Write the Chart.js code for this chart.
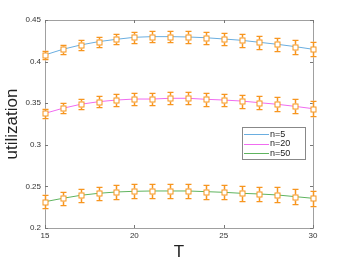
<!DOCTYPE html>
<html>
<head>
<meta charset="utf-8">
<script src="https://cdn.jsdelivr.net/npm/chart.js@4.4.1/dist/chart.umd.min.js"></script>
<style>
  html, body { margin: 0; padding: 0; background: #fff; }
  #wrap { width: 346px; height: 263px; }
</style>
</head>
<body>
<div id="wrap"><canvas id="chart" width="346" height="263"></canvas></div>
<script>
const T = [15, 16, 17, 18, 19, 20, 21, 22, 23, 24, 25, 26, 27, 28, 29, 30];
const seriesNames = ["n=5", "n=20", "n=50"];
const util5 = [0.408, 0.4148, 0.420, 0.424, 0.4268, 0.4292, 0.430, 0.430, 0.4296, 0.4287, 0.4272, 0.4256, 0.4232, 0.4208, 0.418, 0.4148];
const util20 = [0.3378, 0.3439, 0.3487, 0.3518, 0.3538, 0.355, 0.355, 0.3559, 0.3559, 0.3547, 0.3538, 0.3526, 0.3506, 0.3487, 0.3462, 0.3434];
const util50 = [0.2316, 0.2357, 0.2393, 0.2417, 0.2433, 0.2441, 0.2445, 0.2445, 0.2445, 0.2437, 0.2429, 0.2417, 0.2409, 0.2397, 0.2377, 0.2357];
const err5 = [0.005, 0.0055, 0.006, 0.006, 0.0062, 0.0065, 0.0065, 0.0068, 0.007, 0.007, 0.0072, 0.0075, 0.0078, 0.008, 0.0083, 0.0086];
const err20 = [0.0055, 0.006, 0.0062, 0.0065, 0.0068, 0.007, 0.007, 0.0072, 0.0072, 0.0075, 0.0075, 0.0078, 0.008, 0.0082, 0.0085, 0.0088];
const err50 = [0.0075, 0.0075, 0.0078, 0.008, 0.008, 0.0082, 0.0082, 0.0082, 0.0085, 0.0085, 0.0085, 0.0087, 0.0088, 0.009, 0.009, 0.0092];
const yTicks = [0.2, 0.25, 0.3, 0.35, 0.4, 0.45];
const xTicks = [15, 20, 25, 30];

const lineColors = ["#6aaee0", "#f06cf0", "#5fb45f"];
const markerColor = "#f7961e";
const FONT = "'Liberation Sans', Arial, sans-serif";

const errs = [err5, err20, err50];

function toPts(vals) {
    return T.map((t, i) => ({ x: t, y: vals[i] }));
}

// error bars + hollow square markers
const errorBars = {
    id: "errorBars",
    afterDatasetsDraw(chart) {
        const { ctx, scales: { x, y } } = chart;
        ctx.save();
        chart.data.datasets.forEach((ds, di) => {
            const e = errs[di];
            ds.data.forEach((p, i) => {
                const px = Math.round(x.getPixelForValue(p.x)) + 0.5;
                const top = Math.round(y.getPixelForValue(p.y + e[i])) + 0.5;
                const bot = Math.round(y.getPixelForValue(p.y - e[i])) + 0.5;
                const cy = Math.round(y.getPixelForValue(p.y)) + 0.5;
                // soft halo
                ctx.strokeStyle = "rgba(250,195,135,0.45)";
                ctx.lineWidth = 1;
                ctx.beginPath();
                ctx.moveTo(px - 3, top - 1); ctx.lineTo(px + 3, top - 1);
                ctx.moveTo(px - 3, bot + 1); ctx.lineTo(px + 3, bot + 1);
                ctx.moveTo(px - 1, top); ctx.lineTo(px - 1, bot);
                ctx.moveTo(px + 1, top); ctx.lineTo(px + 1, bot);
                ctx.stroke();
                // main bar
                ctx.strokeStyle = markerColor;
                ctx.beginPath();
                ctx.moveTo(px, top); ctx.lineTo(px, cy - 3);
                ctx.moveTo(px, cy + 3); ctx.lineTo(px, bot);
                ctx.moveTo(px - 3, top); ctx.lineTo(px + 3, top);
                ctx.moveTo(px - 3, bot); ctx.lineTo(px + 3, bot);
                ctx.stroke();
                // marker
                ctx.fillStyle = "#fff";
                ctx.fillRect(px - 2.5, cy - 2.5, 5, 5);
                ctx.strokeRect(px - 2.5, cy - 2.5, 5, 5);
            });
        });
        ctx.restore();
    }
};

// MATLAB-like box with inward ticks, plus legend
const axesBox = {
    id: "axesBox",
    beforeDatasetsDraw(chart) {
        const { ctx, chartArea: a, scales: { x, y } } = chart;
        ctx.save();
        ctx.strokeStyle = "#a0a0a0";
        ctx.lineWidth = 1;
        ctx.strokeRect(a.left + 0.5, a.top + 0.5, a.right - a.left, a.bottom - a.top);
        ctx.strokeStyle = "#777";
        ctx.beginPath();
        yTicks.forEach(v => {
            const py = Math.round(y.getPixelForValue(v)) + 0.5;
            ctx.moveTo(a.left, py); ctx.lineTo(a.left + 3, py);
            ctx.moveTo(a.right, py); ctx.lineTo(a.right - 3, py);
        });
        xTicks.forEach(v => {
            const px = Math.round(x.getPixelForValue(v)) + 0.5;
            ctx.moveTo(px, a.bottom); ctx.lineTo(px, a.bottom - 3);
            ctx.moveTo(px, a.top); ctx.lineTo(px, a.top + 3);
        });
        ctx.stroke();
        ctx.restore();
    },
    afterDraw(chart) {
        const { ctx } = chart;
        ctx.save();
        const lx = 242, ly = 127, lw = 63, lh = 32;
        ctx.fillStyle = "#fff";
        ctx.fillRect(lx, ly, lw, lh);
        ctx.strokeStyle = "#888";
        ctx.lineWidth = 1;
        ctx.strokeRect(lx + 0.5, ly + 0.5, lw, lh);
        ctx.font = "9px " + FONT;
        ctx.textBaseline = "middle";
        seriesNames.forEach((name, i) => {
            const ry = ly + 7 + i * 9.5;
            ctx.strokeStyle = lineColors[i];
            ctx.beginPath();
            ctx.moveTo(lx + 2, Math.round(ry) + 0.5);
            ctx.lineTo(lx + 27, Math.round(ry) + 0.5);
            ctx.stroke();
            ctx.fillStyle = "#222";
            ctx.fillText(name, lx + 28, ry + 0.5);
        });
        ctx.restore();
    }
};

new Chart(document.getElementById("chart"), {
    type: "line",
    data: {
        datasets: [util5, util20, util50].map((vals, i) => ({
            label: seriesNames[i],
            data: toPts(vals),
            borderColor: lineColors[i],
            borderWidth: 1,
            pointRadius: 0,
            tension: 0,
            fill: false,
        }))
    },
    options: {
        responsive: false,
        animation: false,
        layout: { padding: { top: 20, right: 33, left: 0, bottom: 0 } },
        plugins: { legend: { display: false }, tooltip: { enabled: false } },
        scales: {
            x: {
                type: "linear",
                min: 15, max: 30,
                afterFit(axis) { axis.height = 35; },
                afterBuildTicks(axis) { axis.ticks = xTicks.map(v => ({ value: v })); },
                grid: { display: false, drawTicks: false },
                border: { display: false },
                ticks: { color: "#333", font: { size: 8, family: FONT }, padding: 3, maxRotation: 0 },
                title: { display: true, text: "T", color: "#222", font: { size: 17, family: FONT }, padding: { top: 5, bottom: 0 } }
            },
            y: {
                type: "linear",
                min: 0.2, max: 0.45,
                afterFit(axis) { axis.width = 45; },
                afterBuildTicks(axis) { axis.ticks = yTicks.map(v => ({ value: v })); },
                grid: { display: false, drawTicks: false },
                border: { display: false },
                ticks: { color: "#333", font: { size: 8, family: FONT }, padding: 4, callback: v => String(+v.toFixed(2)) },
                title: { display: true, text: "utilization", color: "#222", font: { size: 17, family: FONT }, padding: { top: 2, bottom: 0 } }
            }
        }
    },
    plugins: [axesBox, errorBars]
});
</script>
</body>
</html>
